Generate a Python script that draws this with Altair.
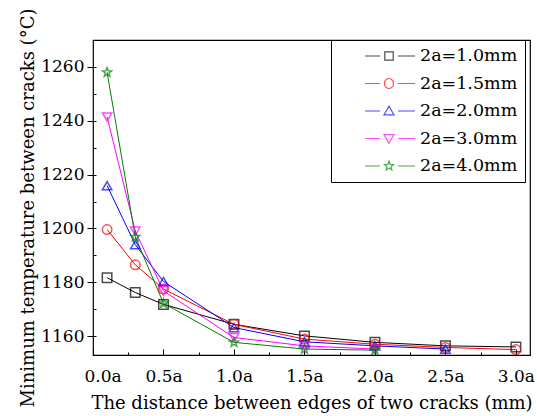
import math
import altair as alt
import pandas as pd

# ---------------- data ----------------
distance = [0.1, 0.3, 0.5, 1.0, 1.5, 2.0, 2.5, 3.0]
series = ["2a=1.0mm", "2a=1.5mm", "2a=2.0mm", "2a=3.0mm", "2a=4.0mm"]
temp_10 = [1181.7, 1176.2, 1171.8, 1164.4, 1160.1, 1157.7, 1156.4, 1156.0]
temp_15 = [1199.6, 1186.5, 1177.5, 1164.4, 1158.9, 1157.0, 1155.8, 1155.0]
temp_20 = [1215.9, 1194.0, 1180.3, 1163.2, 1157.9, 1156.4, 1155.2]
temp_30 = [1241.4, 1199.0, 1176.8, 1159.5, 1156.4, 1155.2]
temp_40 = [1258.0, 1196.9, 1172.2, 1157.7, 1155.2, 1154.8]
x_ticks = [0.0, 0.5, 1.0, 1.5, 2.0, 2.5, 3.0]
x_minor = [0.25, 0.75, 1.25, 1.75, 2.25, 2.75]
y_ticks = [1160, 1180, 1200, 1220, 1240, 1260]
y_all = [1160, 1170, 1180, 1190, 1200, 1210, 1220, 1230, 1240, 1250, 1260]

colors = ["#000000", "#FF0000", "#0000FF", "#FF00FF", "#008000"]

rows = []
for name, vals in zip(series, [temp_10, temp_15, temp_20, temp_30, temp_40]):
    for i, v in enumerate(vals):
        rows.append({"d": distance[i], "t": v, "series": name, "order": i})
df = pd.DataFrame(rows)

FONT = "DejaVu Serif"


# ---------------- marker shapes ----------------
def star_path(R=1.0, r=0.42, cx=0.0, cy=0.0):
    pts = []
    for k in range(10):
        ang = -math.pi / 2 + k * math.pi / 5
        rad = R if k % 2 == 0 else r
        pts.append((cx + rad * math.cos(ang), cy + rad * math.sin(ang)))
    return "M" + "L".join(f"{x:.3f},{y:.3f}" for x, y in pts) + "Z"


shapes = ["square", "circle", "triangle-up", "triangle-down", star_path()]

LEG_SIZE = 5852
S = math.sqrt(LEG_SIZE) / 2.0


def u(px):
    return f"{px / S:.3f}"


def legend_glyph(kind):
    c = 12.0
    lines = f"M{u(-12)},0L{u(3)},0M{u(21)},0L{u(38)},0"
    if kind == 0:
        h = 4.2
        sym = f"M{u(c-h)},{u(-h)}L{u(c+h)},{u(-h)}L{u(c+h)},{u(h)}L{u(c-h)},{u(h)}Z"
    elif kind == 1:
        r = 4.5
        sym = (f"M{u(c-r)},0A{u(r)},{u(r)} 0 1,0 {u(c+r)},0"
               f"A{u(r)},{u(r)} 0 1,0 {u(c-r)},0Z")
    elif kind == 2:
        sym = f"M{u(c)},{u(-4.8)}L{u(c+5.0)},{u(3.8)}L{u(c-5.0)},{u(3.8)}Z"
    elif kind == 3:
        sym = f"M{u(c)},{u(4.8)}L{u(c+5.0)},{u(-3.8)}L{u(c-5.0)},{u(-3.8)}Z"
    else:
        pts = []
        for k in range(10):
            ang = -math.pi / 2 + k * math.pi / 5
            rad = 4.8 if k % 2 == 0 else 2.1
            pts.append((c + rad * math.cos(ang), rad * math.sin(ang)))
        sym = "M" + "L".join(f"{u(x)},{u(y)}" for x, y in pts) + "Z"
    return lines + sym


shape_expr = ""
for i, name in enumerate(series):
    shape_expr += f"datum.value === '{name}' ? '{legend_glyph(i)}' : "
shape_expr += "'circle'"

x_scale = alt.Scale(domain=[0, 3.1], nice=False, zero=False)
y_scale = alt.Scale(domain=[1153, 1270], nice=False, zero=False)
color_scale = alt.Scale(domain=series, range=colors)
shape_scale = alt.Scale(domain=series[::-1], range=shapes[::-1])

legend = alt.Legend(
    title=None, orient="none", legendX=238, legendY=0,
    strokeColor="black", fillColor="white", padding=7,
    labelFont=FONT, labelFontSize=17.5, labelColor="black",
    labelExpr="datum.label + ' '",
    labelOffset=4, symbolSize=LEG_SIZE, symbolStrokeWidth=1.2,
    symbolFillColor="transparent",
    symbolType={"expr": shape_expr},
    clipHeight=18, rowPadding=9.5,
)

base = alt.Chart(df)

x_main = alt.Axis(
    orient="bottom",
    values=x_ticks, labelExpr="format(datum.value, '.1f') + 'a'",
    ticks=False, tickSize=0, domain=False, grid=False,
    labelFont=FONT, labelFontSize=17, labelColor="black",
    labelBaseline="alphabetic", labelPadding=26,
    labelFlush=True, labelFlushOffset=9,
    title="The distance between edges of two cracks (mm)",
    titleFont=FONT, titleFontSize=18, titleFontWeight="normal", titleColor="black",
    titleBaseline="alphabetic", titleY=53,
)
y_main = alt.Axis(
    orient="left", format="d",
    values=y_ticks, tickSize=6, tickColor="black", tickWidth=1,
    domain=False, grid=False,
    labelFont=FONT, labelFontSize=17, labelColor="black", labelPadding=3,
    title="Minimum temperature between cracks (°C)",
    titleFont=FONT, titleFontSize=18, titleFontWeight="normal", titleColor="black",
    titleBaseline="alphabetic", titleAngle=270, titleX=-60, titleY=167.5,
    titleAlign="center",
)

lines = base.mark_line(strokeWidth=1, clip=True).encode(
    x=alt.X("d:Q", scale=x_scale,
            axis=alt.Axis(values=x_ticks, tickSize=6, offset=-6, labels=False,
                          domain=False, grid=False, title=None, orient="bottom",
                          tickColor="black")),
    y=alt.Y("t:Q", scale=y_scale,
            axis=alt.Axis(values=y_all, tickSize=3, offset=-3, labels=False,
                          domain=False, grid=False, title=None, orient="left",
                          tickColor="black")),
    color=alt.Color("series:N", scale=color_scale, legend=legend),
    order="order:Q",
)

minor = base.mark_point(opacity=0).encode(
    x=alt.X("d:Q", scale=x_scale,
            axis=alt.Axis(values=x_minor, tickSize=3, offset=-3, labels=False,
                          domain=False, grid=False, title=None, orient="bottom",
                          tickColor="black")),
    y=alt.Y("t:Q", scale=y_scale, axis=None),
)

points = base.mark_point(filled=False, strokeWidth=1.5, size=90, clip=True).encode(
    x=alt.X("d:Q", scale=x_scale, axis=x_main),
    y=alt.Y("t:Q", scale=y_scale, axis=y_main),
    color=alt.Color("series:N", scale=color_scale, legend=legend),
    shape=alt.Shape("series:N", scale=shape_scale, legend=None),
)

chart = alt.layer(lines, minor, points).resolve_axis(
    x="independent", y="independent"
).properties(
    width=437, height=315,
    padding={"left": 93, "top": 40, "right": 7, "bottom": 61},
    autosize=alt.AutoSizeParams(type="none"),
    background="white",
).configure_view(stroke="black", strokeWidth=1.2)

chart.save("out.html", embed_options={"renderer": "svg", "actions": False})
